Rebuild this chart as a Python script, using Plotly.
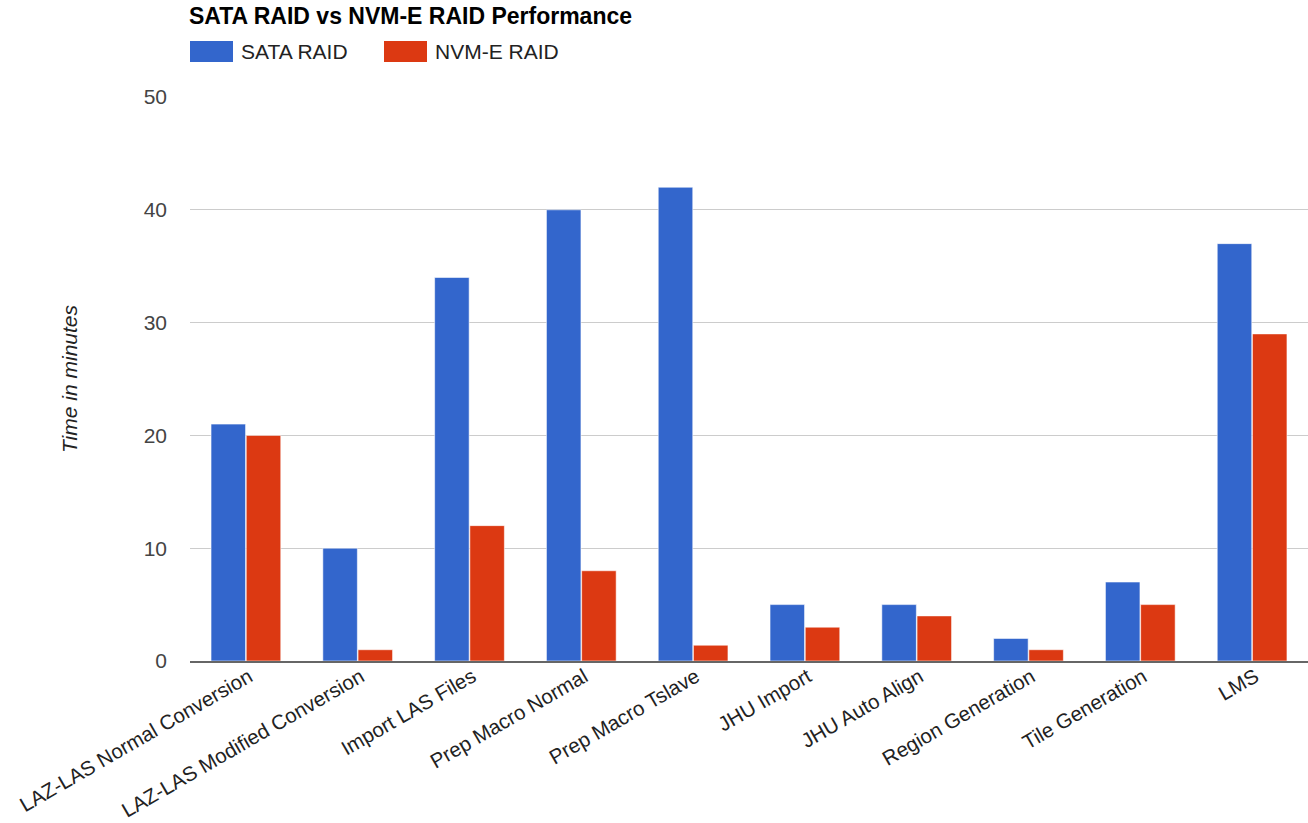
import plotly.graph_objects as go

categories = ["LAZ-LAS Normal Conversion", "LAZ-LAS Modified Conversion", "Import LAS Files",
              "Prep Macro Normal", "Prep Macro Tslave", "JHU Import", "JHU Auto Align",
              "Region Generation", "Tile Generation", "LMS"]
sata_raid = [21, 10, 34, 40, 42, 5, 5, 2, 7, 37]
nvme_raid = [20, 1, 12, 8, 1.4, 3, 4, 1, 5, 29]
series_names = ["SATA RAID", "NVM-E RAID"]
series_colors = ["#3366CC", "#DC3912"]
y_ticks = [0, 10, 20, 30, 40, 50]

FONT = "Liberation Sans, Arial, sans-serif"

fig = go.Figure()
for name, vals, col in zip(series_names, [sata_raid, nvme_raid], series_colors):
    fig.add_trace(go.Bar(
        x=categories, y=vals, name=name,
        marker=dict(color=col, line=dict(color="rgba(255,255,255,0.55)", width=1)),
        showlegend=False,
    ))

fig.update_layout(
    width=1308, height=823,
    margin=dict(l=190, r=0, t=97, b=162),
    paper_bgcolor="white", plot_bgcolor="white",
    barmode="group", bargap=0.37, bargroupgap=0.02,
    font=dict(family=FONT, size=21, color="#444444"),
    title=dict(text="<b>SATA RAID vs NVM-E RAID Performance</b>",
               x=189/1308, xanchor="left", xref="container",
               y=1 - 16/823, yanchor="middle", yref="container",
               font=dict(family=FONT, size=23, color="#000000")),
)

fig.update_xaxes(
    automargin=False,
    tickangle=-30, showgrid=False, showline=True, linecolor="#666666", linewidth=2,
    tickfont=dict(family=FONT, size=20.5, color="#222222"),
    ticklabelstandoff=-6, ticklabelshift=3,
    range=[-0.5, len(categories) - 0.5],
)
fig.update_yaxes(
    automargin=False,
    range=[0, 50], tickvals=y_ticks, showgrid=True, gridcolor="#CCCCCC", gridwidth=1,
    zeroline=False, showline=False, ticklabelstandoff=22,
    tickfont=dict(family=FONT, size=21, color="#444444"),
    title=dict(text="<i>Time in minutes</i>", standoff=60,
               font=dict(family=FONT, size=21, color="#222222")),
)

# Legend drawn at top-left
legend_items = [(190, series_names[0], series_colors[0]), (384, series_names[1], series_colors[1])]
for x0, label, col in legend_items:
    fig.add_shape(type="rect", xref="paper", yref="paper",
                  x0=(x0 - 190) / 1118, x1=(x0 + 43 - 190) / 1118,
                  y0=(661 - 62) / 564, y1=(661 - 41) / 564,
                  fillcolor=col, line=dict(color=col, width=0))
    fig.add_annotation(xref="paper", yref="paper",
                       x=(x0 + 49 - 190) / 1118, y=(661 - 51.5) / 564,
                       xanchor="left", yanchor="middle", showarrow=False,
                       text=label, font=dict(family=FONT, size=21, color="#222222"))

fig.write_html("out.html")
